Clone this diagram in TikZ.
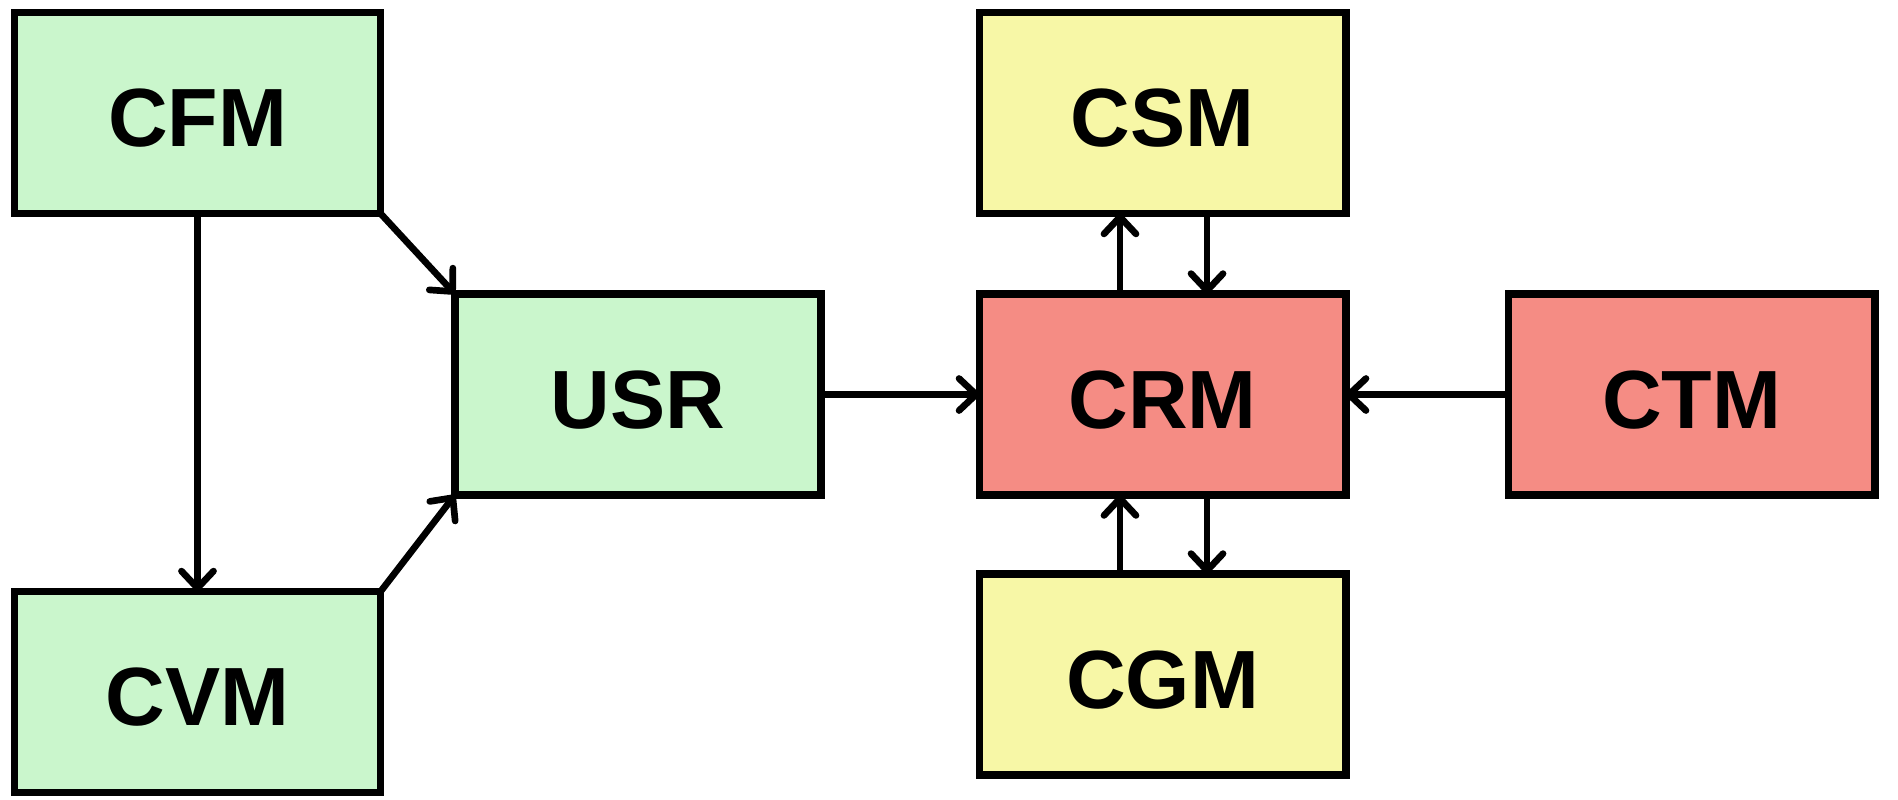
\documentclass[tikz,border=0pt]{standalone}
\usepackage{fontspec}
\setmainfont{Liberation Sans}
\usetikzlibrary{arrows.meta,calc}
\definecolor{boxgreen}{RGB}{202,246,204}
\definecolor{boxyellow}{RGB}{247,247,166}
\definecolor{boxred}{RGB}{245,140,132}
\newcommand{\lbl}[1]{\raisebox{-0.05cm}[\height][0pt]{#1}}
\tikzset{
  module/.style={draw=black, line width=2.2pt, rectangle, minimum width=3.66cm, minimum height=2.01cm, inner sep=0pt, outer sep=0pt, font=\fontsize{23.5}{26}\selectfont\bfseries},
  arr/.style={line width=1.9pt, -{Straight Barb[length=0.17cm,width=0.32cm,line width=1.9pt,round]}}
}
\begin{document}
\begin{tikzpicture}[x=0.01cm,y=-0.01cm]
\useasboundingbox (0,0) rectangle (1898,799);
\node[module, fill=boxgreen]  (CFM) at (197.5,113) {\lbl{CFM}};
\node[module, fill=boxgreen]  (CVM) at (197.5,692) {\lbl{CVM}};
\node[module, fill=boxgreen]  (USR) at (638,394.5) {\lbl{USR}};
\node[module, fill=boxred]    (CRM) at (1162.5,394.5) {\lbl{CRM}};
\node[module, fill=boxred]    (CTM) at (1691.5,394.5) {\lbl{CTM}};
\node[module, fill=boxyellow] (CSM) at (1162.5,113) {\lbl{CSM}};
\node[module, fill=boxyellow] (CGM) at (1162.5,674.5) {\lbl{CGM}};
\draw[arr] (CFM.south) -- (CVM.north);
\draw[arr] (CFM.south east) -- (USR.north west);
\draw[arr] (CVM.north east) -- (USR.south west);
\draw[arr] (USR.east) -- (CRM.west);
\draw[arr] (CTM.west) -- (CRM.east);
\draw[arr] ([xshift=-0.425cm]CRM.north) -- ([xshift=-0.425cm]CSM.south);
\draw[arr] ([xshift=0.445cm]CSM.south) -- ([xshift=0.445cm]CRM.north);
\draw[arr] ([xshift=-0.425cm]CGM.north) -- ([xshift=-0.425cm]CRM.south);
\draw[arr] ([xshift=0.445cm]CRM.south) -- ([xshift=0.445cm]CGM.north);
\end{tikzpicture}
\end{document}
